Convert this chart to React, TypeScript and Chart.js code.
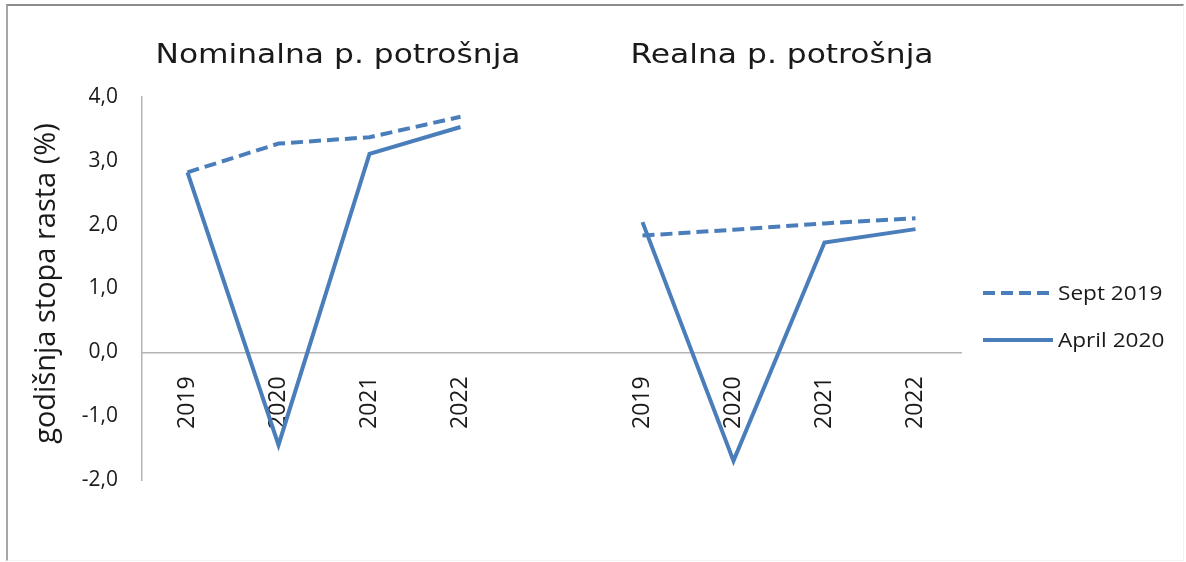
import React, { useEffect, useRef } from 'react';
import { Chart, registerables } from 'chart.js';

Chart.register(...registerables);

// ---- data ----
const categories = ['2019', '2020', '2021', '2022', '', '2019', '2020', '2021', '2022'];
const sept2019 = [2.82, 3.27, 3.37, 3.69, null, 1.83, 1.92, 2.02, 2.1];
const april2020 = [2.82, -1.45, 3.11, 3.53, null, 2.04, -1.7, 1.72, 1.93];
const seriesNames = ['Sept 2019', 'April 2020'];
const panelTitles = ['Nominalna p. potrošnja', 'Realna p. potrošnja'];
const panelIndexRanges = [[0, 3], [5, 8]];
const panelTitleShift = [14, 3];
const yAxisTitle = 'godišnja stopa rasta (%)';
const yMin = -2;
const yMax = 4;
const yStep = 1;

const LINE_COLOR = '#4a7ebb';
const TEXT_COLOR = '#1a1a1a';

function drawStretched(ctx: CanvasRenderingContext2D, text: string, x: number, y: number, align: CanvasTextAlign, sx: number) {
  ctx.save();
  ctx.translate(x, y);
  ctx.scale(sx, 1);
  ctx.textAlign = align;
  ctx.textBaseline = 'alphabetic';
  ctx.fillText(text, 0, 0);
  ctx.restore();
}

const decorPlugin = {
  id: 'decor',
  afterDraw(chart: any) {
    const ctx: CanvasRenderingContext2D = chart.ctx;
    const xs = chart.scales.x;
    const area = chart.chartArea;
    ctx.save();
    ctx.fillStyle = TEXT_COLOR;

    // panel titles
    ctx.font = '27px "DejaVu Sans"';
    panelTitles.forEach((t, i) => {
      const [a, b] = panelIndexRanges[i];
      const cx = (xs.getPixelForValue(a) + xs.getPixelForValue(b)) / 2 + panelTitleShift[i];
      drawStretched(ctx, t, cx, area.top - 34, 'center', 1.16);
    });

    // y axis title
    ctx.save();
    ctx.font = '29px "Open Sans"';
    ctx.translate(55, (area.top + area.bottom) / 2 - 5);
    ctx.rotate(-Math.PI / 2);
    ctx.textAlign = 'center';
    ctx.textBaseline = 'alphabetic';
    ctx.fillText(yAxisTitle, 0, 0);
    ctx.restore();

    // legend
    const lx0 = area.right + 22;
    const lx1 = area.right + 92;
    const rows = [293, 340];
    chart.data.datasets.forEach((ds: any, i: number) => {
      const y = rows[i];
      ctx.save();
      ctx.strokeStyle = ds.borderColor;
      ctx.lineWidth = ds.borderWidth;
      ctx.setLineDash(ds.borderDash || []);
      ctx.lineCap = 'butt';
      ctx.beginPath();
      ctx.moveTo(lx0, y);
      ctx.lineTo(lx1, y);
      ctx.stroke();
      ctx.restore();
      ctx.font = '20px "Open Sans"';
      ctx.fillStyle = TEXT_COLOR;
      drawStretched(ctx, seriesNames[i], lx1 + 5, y + 7, 'left', 1.13);
    });
    ctx.restore();
  },
};

export default function App() {
  const canvasRef = useRef<HTMLCanvasElement | null>(null);

  useEffect(() => {
    const canvas = canvasRef.current;
    if (!canvas) return;
    const chart = new Chart(canvas, {
      type: 'line',
      data: {
        labels: categories,
        datasets: [
          {
            label: seriesNames[0],
            data: sept2019,
            borderColor: LINE_COLOR,
            backgroundColor: LINE_COLOR,
            borderWidth: 4,
            borderDash: [12, 6],
            borderCapStyle: 'butt',
            borderJoinStyle: 'miter',
            pointRadius: 0,
            tension: 0,
            spanGaps: false,
          },
          {
            label: seriesNames[1],
            data: april2020,
            borderColor: LINE_COLOR,
            backgroundColor: LINE_COLOR,
            borderWidth: 4,
            borderCapStyle: 'butt',
            borderJoinStyle: 'miter',
            pointRadius: 0,
            tension: 0,
            spanGaps: false,
          },
        ],
      },
      options: {
        responsive: false,
        animation: false,
        devicePixelRatio: 1,
        layout: { padding: { top: 97, bottom: 82, left: 0, right: 225 } },
        plugins: {
          legend: { display: false },
          tooltip: { enabled: false },
          title: { display: false },
        },
        scales: {
          x: {
            type: 'category',
            offset: true,
            position: { y: 0 } as any,
            grid: { display: false, drawTicks: false },
            border: { display: true, color: '#b4b4b4', width: 1.5 },
            ticks: {
              autoSkip: false,
              minRotation: 90,
              maxRotation: 90,
              padding: 24,
              color: TEXT_COLOR,
              font: { family: '"Open Sans"', size: 23 },
            },
          },
          y: {
            min: yMin,
            max: yMax,
            grid: { display: false, drawTicks: false },
            border: { display: true, color: '#b4b4b4', width: 1.5 },
            ticks: {
              stepSize: yStep,
              padding: 24,
              color: TEXT_COLOR,
              font: { family: '"Open Sans"', size: 21 },
              callback: (v: any) => Number(v).toFixed(1).replace('.', ','),
            },
            afterFit: (scale: any) => {
              scale.width = 142;
            },
          },
        },
      },
      plugins: [decorPlugin],
    });
    return () => chart.destroy();
  }, []);

  return (
    <div
      style={{
        position: 'fixed',
        left: 0,
        top: 0,
        width: 1186,
        height: 562,
        background: '#ffffff',
        overflow: 'hidden',
      }}
    >
      <canvas ref={canvasRef} width={1186} height={562} style={{ display: 'block', width: 1186, height: 562 }} />
      <div
        style={{
          position: 'absolute',
          left: 6,
          top: 4,
          right: 2,
          bottom: 1,
          borderTop: '2px solid #8c8c8c',
          borderLeft: '2px solid #a6a6a6',
          borderRight: '1px solid #f2f2f2',
          borderBottom: '1px solid #f4f4f4',
          pointerEvents: 'none',
        }}
      />
    </div>
  );
}
